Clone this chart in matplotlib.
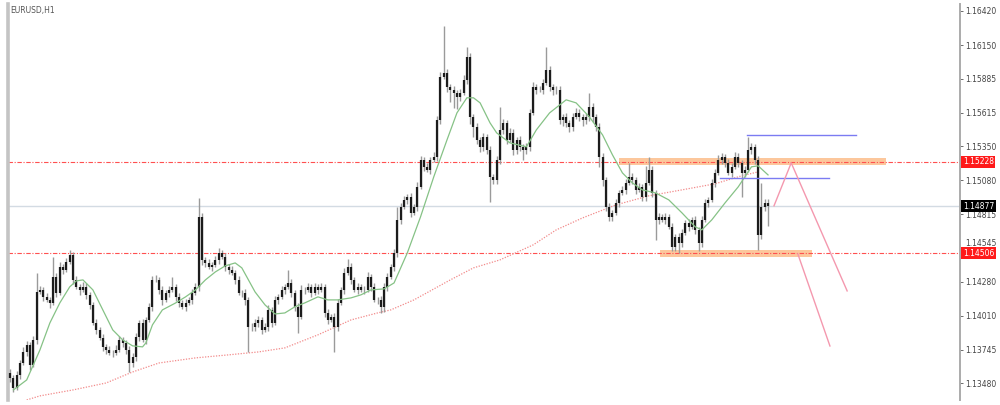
import matplotlib
matplotlib.use("Agg")
import matplotlib.pyplot as plt
import matplotlib.transforms as mtransforms
import numpy as np

SYMBOL = "EURUSD,H1"

# hourly closes (left to right)
first_open = 1.13560
closes = [
    1.13521, 1.13442, 1.13545, 1.13639, 1.13726, 1.13782, 1.13624, 1.13821, 1.14200, 1.14216,
    1.14161, 1.14137, 1.14113, 1.14319, 1.14192, 1.14398, 1.14374, 1.14437, 1.14493, 1.14295,
    1.14240, 1.14216, 1.14240, 1.14177, 1.14098, 1.13955, 1.13900, 1.13837, 1.13766, 1.13742,
    1.13718, 1.13718, 1.13742, 1.13821, 1.13797, 1.13742, 1.13639, 1.13687,
    1.13845, 1.13955, 1.13821, 1.13979, 1.14082, 1.14295, 1.14295, 1.14216, 1.14137, 1.14192,
    1.14216, 1.14240, 1.14161, 1.14113, 1.14082, 1.14113, 1.14137, 1.14192, 1.14240, 1.14793,
    1.14453, 1.14429, 1.14398, 1.14414, 1.14453, 1.14508, 1.14477, 1.14398, 1.14374, 1.14350,
    1.14295, 1.14192, 1.14192, 1.14137, 1.13924, 1.13924, 1.13955,
    1.13979, 1.13900, 1.13924, 1.14058, 1.13955, 1.14137, 1.14161, 1.14216, 1.14240, 1.14271,
    1.14192, 1.14082, 1.14003, 1.14216, 1.14216, 1.14240, 1.14192, 1.14240, 1.14216, 1.14240,
    1.14034, 1.13979, 1.14003, 1.13924, 1.14113, 1.14216, 1.14350, 1.14398, 1.14295, 1.14216,
    1.14240, 1.14216, 1.14216, 1.14319, 1.14240, 1.14137, 1.14137, 1.14082, 1.14240, 1.14319,
    1.14398, 1.14508,
    1.14769, 1.14872, 1.14927, 1.14951, 1.14824, 1.14872, 1.15030, 1.15243, 1.15188, 1.15164,
    1.15243, 1.15267, 1.15559, 1.15899, 1.15930, 1.15820, 1.15796, 1.15772, 1.15741, 1.15772,
    1.15875, 1.16057, 1.15583, 1.15504, 1.15401, 1.15346, 1.15425, 1.15322, 1.15109, 1.15085,
    1.15243, 1.15480,
    1.15535, 1.15401, 1.15456, 1.15322, 1.15401, 1.15346, 1.15322, 1.15346, 1.15614, 1.15820,
    1.15796, 1.15796, 1.15851, 1.15954, 1.15820, 1.15796, 1.15796, 1.15559, 1.15583, 1.15535,
    1.15504, 1.15583, 1.15614, 1.15583, 1.15559, 1.15583, 1.15662, 1.15583, 1.15504, 1.15267,
    1.15085, 1.14872,
    1.14793, 1.14824, 1.14903, 1.14982, 1.15006, 1.15061, 1.15109, 1.15085, 1.15006, 1.15030,
    1.14951, 1.15061, 1.15164, 1.14982, 1.14769, 1.14793, 1.14769, 1.14793, 1.14714, 1.14556,
    1.14635, 1.14587, 1.14666, 1.14745, 1.14714, 1.14769, 1.14690, 1.14587, 1.14769, 1.14903,
    1.14927, 1.15061, 1.15140, 1.15243, 1.15267, 1.15219, 1.15140, 1.15188, 1.15267, 1.15219,
    1.15140, 1.15164, 1.15322, 1.15346, 1.15243, 1.14651, 1.14872, 1.14903, 1.14877,
]

# wick length above / below the body, in pips
wick_hi = [
    3, 2, 3, 2, 4, 3, 2, 3, 15, 3, 2, 3, 2, 16, 3, 4, 2, 3, 4, 2, 3, 2, 4, 3, 2, 2, 3, 2, 3, 2, 3, 2, 4, 3, 2, 2, 3, 3,
    3, 2, 3, 2, 3, 3, 4, 2, 3, 2, 3, 8, 2, 3, 2, 3, 2, 3, 3, 15, 3, 2, 3, 2, 3, 4, 2, 3, 2, 3, 2, 3, 2, 3, 2, 3, 3,
    3, 2, 3, 4, 2, 3, 2, 3, 2, 10, 3, 2, 3, 4, 2, 3, 2, 3, 2, 3, 2, 3, 2, 3, 3, 2, 4, 6, 3, 2, 3, 2, 3, 4, 2, 3, 2, 3, 3, 3, 2, 3,
    10, 3, 3, 2, 3, 2, 4, 3, 2, 3, 2, 4, 3, 4, 37, 3, 2, 3, 2, 3, 4, 8, 3, 2, 3, 2, 3, 2, 3, 2, 3, 18,
    3, 2, 4, 3, 2, 3, 2, 3, 3, 4, 2, 3, 3, 18, 3, 2, 3, 3, 2, 3, 2, 3, 4, 3, 2, 3, 11, 3, 2, 3, 3, 2,
    3, 2, 3, 2, 3, 3, 11, 3, 2, 3, 2, 13, 10, 3, 2, 3, 2, 3, 2, 3, 2, 3, 3, 2, 3, 2, 3, 2, 3, 3,
    2, 3, 3, 4, 3, 2, 3, 3, 4, 3, 2, 3, 10, 3, 2, 3, 19, 3, 3,
]
wick_lo = [
    3, 3, 2, 3, 2, 3, 4, 2, 3, 2, 3, 2, 4, 2, 3, 2, 3, 2, 2, 3, 2, 4, 2, 3, 3, 2, 3, 2, 3, 3, 2, 3, 2, 2, 3, 3, 7, 3,
    3, 3, 2, 3, 2, 3, 2, 3, 4, 2, 3, 2, 3, 3, 2, 3, 2, 3, 2, 3, 4, 3, 2, 3, 2, 3, 2, 3, 3, 2, 3, 2, 3, 4, 20, 3, 3,
    3, 3, 2, 3, 3, 2, 3, 2, 3, 2, 3, 3, 13, 2, 3, 2, 3, 2, 3, 2, 3, 3, 2, 20, 3, 2, 3, 2, 3, 2, 3, 2, 3, 2, 3, 2, 3, 5, 4, 3, 2, 3,
    3, 3, 2, 3, 3, 2, 3, 2, 3, 2, 3, 2, 3, 3, 2, 4, 10, 12, 10, 3, 2, 3, 6, 8, 3, 4, 3, 3, 20, 3, 3, 3,
    3, 3, 2, 4, 3, 3, 8, 3, 3, 2, 3, 2, 3, 2, 3, 4, 3, 3, 5, 3, 4, 3, 2, 3, 5, 3, 3, 4, 3, 8, 5, 3,
    3, 3, 2, 3, 2, 3, 2, 3, 3, 2, 3, 3, 2, 3, 16, 3, 2, 3, 2, 3, 3, 8, 3, 2, 3, 2, 3, 6, 3, 2,
    3, 2, 3, 2, 3, 3, 2, 3, 2, 3, 19, 3, 2, 3, 3, 12, 3, 3, 16,
]

# green moving average, read at these bars
ma_fast_bar = [1, 5, 9, 12, 15, 18, 20, 22, 25, 28, 31, 34, 37, 40, 41, 43, 46, 50, 53, 56,
               59, 62, 65, 68, 70, 72, 74, 77, 80, 83, 86, 89, 93, 96, 99, 103, 106, 109, 113, 116,
               120, 124, 128, 132, 135, 138, 140, 142, 145, 147, 151, 156, 159, 163, 168, 171, 175, 179, 182, 185,
               188, 191, 195, 199, 203, 207, 209, 212, 216, 220, 224, 226, 229]
ma_fast_val = [1.13426, 1.13505, 1.13742, 1.13955, 1.14113, 1.14240, 1.14287, 1.14295, 1.14216, 1.14058,
               1.13900, 1.13821, 1.13774, 1.13766, 1.13797, 1.13940, 1.14058, 1.14113, 1.14161, 1.14216,
               1.14295, 1.14358, 1.14406, 1.14429, 1.14390, 1.14295, 1.14200, 1.14098, 1.14026, 1.14034,
               1.14082, 1.14113, 1.14161, 1.14137, 1.14137, 1.14153, 1.14177, 1.14216, 1.14224, 1.14271,
               1.14508, 1.14793, 1.15109, 1.15401, 1.15614, 1.15733, 1.15733, 1.15693, 1.15535, 1.15456,
               1.15377, 1.15346, 1.15480, 1.15614, 1.15717, 1.15693, 1.15583, 1.15440, 1.15282, 1.15140,
               1.15061, 1.15006, 1.14982, 1.14927, 1.14824, 1.14714, 1.14690, 1.14769, 1.14903, 1.15030,
               1.15188, 1.15196, 1.15124]

# red dotted slow moving average
ma_slow_bar = [5, 9, 19, 29, 37, 45, 56, 66, 75, 83, 93, 103, 111, 115, 122, 133, 140, 148, 158, 165,
               173, 183, 193, 203, 213, 221, 226]
ma_slow_val = [1.13347, 1.13379, 1.13426, 1.13481, 1.13568, 1.13639, 1.13679, 1.13703, 1.13726, 1.13758,
               1.13861, 1.13979, 1.14034, 1.14058, 1.14137, 1.14295, 1.14390, 1.14453, 1.14571, 1.14690,
               1.14785, 1.14887, 1.14959, 1.15006, 1.15054, 1.15117, 1.15148]

price_ticks = [1.16420, 1.16150, 1.15885, 1.15615, 1.15350, 1.15080,
               1.14815, 1.14545, 1.14280, 1.14010, 1.13745, 1.13480]

level_hi = 1.15228
level_lo = 1.14506
last_price = 1.14877

# drawing objects on the chart (bar, price)
zone_hi_bars = (184.0, 264.5)
zone_lo_bars = (196.5, 242.3)
blue_hi = ((222.7, 255.6), 1.15440)
blue_lo = ((214.5, 247.4), 1.15101)
pink_a_bars = [230.8, 236.0, 252.9]
pink_a_vals = [1.14880, 1.15219, 1.14208]
pink_b_bars = [238.0, 247.7]
pink_b_vals = [1.14500, 1.13773]

PIP = 0.0001


def draw_candles(ax):
    c = np.array(closes)
    o = np.concatenate([[first_open], c[:-1]])
    top = np.maximum(o, c)
    bot = np.minimum(o, c)
    hi = top + np.array(wick_hi) * PIP
    lo = bot - np.array(wick_lo) * PIP
    x = np.arange(len(c))
    ax.vlines(x, lo, hi, colors="#9a9a9a", lw=1.0, zorder=3)
    ax.vlines(x, bot, top, colors="#1c1c1c", lw=1.6, zorder=4)


fig = plt.figure(figsize=(10, 4.05), dpi=100)
ax = fig.add_axes([0.0075, 0.0125, 0.9525, 0.978])

ax.set_xlim(-0.8, 287.0)
ax.set_ylim(1.13347, 1.16475)

# zones behind everything else
for (x0, x1), lvl in ((zone_hi_bars, level_hi), (zone_lo_bars, level_lo)):
    ax.fill_between([x0, x1], lvl - 0.00028, lvl + 0.00028, color="#fcc79c", lw=0, zorder=1)

ax.axhline(last_price, color="#d3dbe3", lw=1.0, zorder=1)
for lvl in (level_hi, level_lo):
    ax.axhline(lvl, color="#ff5050", lw=0.8, ls=(0, (4, 1.5, 1, 1.5)), zorder=2)

ax.plot(ma_slow_bar, ma_slow_val, color="#f28a8a", lw=0.9, ls=(0, (1, 1.2)), zorder=2)
ax.plot(ma_fast_bar, ma_fast_val, color="#86c286", lw=0.9, zorder=5)

draw_candles(ax)

for (x0, x1), lvl in (blue_hi, blue_lo):
    ax.plot([x0, x1], [lvl, lvl], color="#7b7bf2", lw=1.0, zorder=5)
ax.plot(pink_a_bars, pink_a_vals, color="#f498ae", lw=1.0, zorder=5)
ax.plot(pink_b_bars, pink_b_vals, color="#f498ae", lw=1.0, zorder=5)

# axes styling like the terminal
for side in ("top", "bottom"):
    ax.spines[side].set_visible(False)
ax.spines["left"].set_color("#c4c4c4")
ax.spines["left"].set_linewidth(2.6)
ax.spines["right"].set_color("#ababab")
ax.spines["right"].set_linewidth(1.4)
ax.set_xticks([])
ax.yaxis.tick_right()
ax.set_yticks(price_ticks)
ax.set_yticklabels(["%.5f" % t for t in price_ticks])
ax.tick_params(axis="y", length=2, width=0.6, pad=1.5, labelsize=5.5,
               colors="#555555", labelcolor="#444444")

# the tick label sitting right above the red 1.14506 box is nudged up a little
for lab, t in zip(ax.get_yticklabels(), price_ticks):
    if t == 1.14545:
        lab.set_transform(lab.get_transform() +
                          mtransforms.ScaledTranslation(0, 4 / 72, fig.dpi_scale_trans))

ax.text(0.003, 0.982, SYMBOL, transform=ax.transAxes, fontsize=5.5,
        color="#555555", va="center", ha="left")

trans = mtransforms.blended_transform_factory(ax.transAxes, ax.transData)
for lvl, face in ((level_hi, "#ff1a1a"), (last_price, "#000000"), (level_lo, "#ff1a1a")):
    ax.text(1.003, lvl, "%.5f" % lvl, transform=trans, fontsize=5.5, color="white",
            va="center", ha="left", zorder=10, clip_on=False,
            bbox=dict(boxstyle="square,pad=0.2", fc=face, ec="none"))

fig.savefig("out.png", dpi=100)
